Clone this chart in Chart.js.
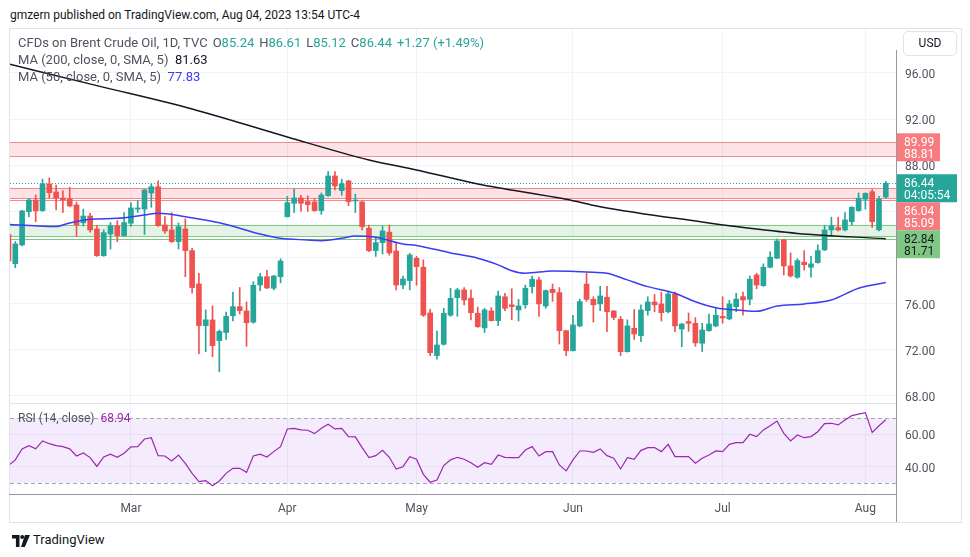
<!DOCTYPE html>
<html>
<head>
<meta charset="utf-8">
<script src="https://cdn.jsdelivr.net/npm/chart.js@4.4.0/dist/chart.umd.min.js"></script>
<style>
  body{margin:0;background:#fff;width:970px;height:557px;position:relative;overflow:hidden;font-family:Roboto,'Noto Sans',sans-serif;color:#131722}
  .abs{position:absolute}
  #frame{left:9px;top:28px;width:953px;height:495px;border:1px solid #e0e3eb;box-sizing:border-box}
  #head{left:10px;top:6px;font-size:12px;line-height:18px;color:#131722}
  #legend{left:18px;top:34px;font-size:13px;line-height:17px;color:#50535e;white-space:nowrap}
  #legend .t{color:#26a69a}
  #legend .m{margin-left:5px}
  #rsiLabel{left:18px;top:410px;font-size:12px;line-height:17px;color:#50535e}
  #usd{left:903px;top:31px;width:54px;height:25px;border:1px solid #e0e3eb;border-radius:5px;box-sizing:border-box;font-size:12px;line-height:23px;text-align:center;color:#131722}
  #mainBox{left:9px;top:28px;width:953px;height:375px}
  #rsiBox{left:9px;top:404px;width:953px;height:118px}
  #foot{left:33px;top:531px;font-size:13px;line-height:18px;color:#131722}
</style>
</head>
<body>
<div id="frame" class="abs"></div>
<div id="head" class="abs">gmzern published on TradingView.com, Aug 04, 2023 13:54 UTC-4</div>
<div id="mainBox" class="abs"><canvas id="mainChart"></canvas></div>
<div id="rsiBox" class="abs"><canvas id="rsiChart"></canvas></div>
<div class="abs" style="left:10px;top:403px;width:886px;height:1px;background:#e0e3eb"></div>
<div class="abs" style="left:9px;top:494px;width:887px;height:1px;background:#9598a1"></div>
<div class="abs" style="left:896px;top:50px;width:1px;height:472px;background:#9598a1"></div>
<div id="legend" class="abs">
  <div>CFDs on Brent Crude Oil, 1D, TVC<span class="m">O</span><span class="t">85.24</span><span class="m">H</span><span class="t">86.61</span><span class="m">L</span><span class="t">85.12</span><span class="m">C</span><span class="t">86.44</span><span class="m t">+1.27 (+1.49%)</span></div>
  <div>MA (200, close, 0, SMA, 5)&nbsp; <span style="color:#131722">81.63</span></div>
  <div>MA (50, close, 0, SMA, 5)&nbsp; <span style="color:#3c3cf5">77.83</span></div>
</div>
<div id="rsiLabel" class="abs">RSI (14, close)&nbsp; <span style="color:#9c27b0">68.94</span></div>
<div id="usd" class="abs">USD</div>
<svg class="abs" style="left:12px;top:535px" width="18" height="12" viewBox="0 0 18 12">
  <path d="M0 0h7.5v12h-3.6v-8.4h-3.9z" fill="#131722"/><circle cx="10.2" cy="2" r="2" fill="#131722"/><path d="M13 0h5l-5.2 12h-3.8z" fill="#131722"/>
</svg>
<div id="foot" class="abs">TradingView</div>

<script>
'use strict';

// trading days shown on the chart (Brent CFD, daily)
const dates = [
  'Feb 03','Feb 06','Feb 07','Feb 08','Feb 09','Feb 10','Feb 13','Feb 14','Feb 15','Feb 16','Feb 17','Feb 20','Feb 21','Feb 22','Feb 23','Feb 24','Feb 27','Feb 28',
  'Mar 01','Mar 02','Mar 03','Mar 06','Mar 07','Mar 08','Mar 09','Mar 10','Mar 13','Mar 14','Mar 15','Mar 16','Mar 17','Mar 20','Mar 21','Mar 22','Mar 23','Mar 24','Mar 27','Mar 28','Mar 29','Mar 30','Mar 31',
  'Apr 03','Apr 04','Apr 05','Apr 06','Apr 10','Apr 11','Apr 12','Apr 13','Apr 14','Apr 17','Apr 18','Apr 19','Apr 20','Apr 21','Apr 24','Apr 25','Apr 26','Apr 27','Apr 28',
  'May 01','May 02','May 03','May 04','May 05','May 08','May 09','May 10','May 11','May 12','May 15','May 16','May 17','May 18','May 19','May 22','May 23','May 24','May 25','May 26','May 29','May 30','May 31',
  'Jun 01','Jun 02','Jun 05','Jun 06','Jun 07','Jun 08','Jun 09','Jun 12','Jun 13','Jun 14','Jun 15','Jun 16','Jun 19','Jun 20','Jun 21','Jun 22','Jun 23','Jun 26','Jun 27','Jun 28','Jun 29','Jun 30',
  'Jul 03','Jul 04','Jul 05','Jul 06','Jul 07','Jul 10','Jul 11','Jul 12','Jul 13','Jul 14','Jul 17','Jul 18','Jul 19','Jul 20','Jul 21','Jul 24','Jul 25','Jul 26','Jul 27','Jul 28','Jul 31',
  'Aug 01','Aug 02','Aug 03','Aug 04'
];

const open = [
  82.00,79.47,81.09,83.98,84.99,84.07,86.38,85.68,85.16,85.10,84.56,83.00,83.60,82.48,80.16,82.04,82.76,81.90,
  82.97,84.20,84.20,85.60,86.14,82.82,82.39,81.38,82.48,80.60,77.71,74.10,74.59,72.80,73.50,74.96,75.74,75.37,74.40,77.62,78.34,77.34,78.34,
  83.54,84.70,85.16,84.85,84.82,84.07,85.37,87.07,85.80,86.64,84.90,84.82,82.54,80.60,81.29,82.20,80.57,77.62,78.00,
  79.94,79.16,75.20,71.50,72.48,75.00,76.52,77.19,76.47,75.17,73.90,75.37,74.53,76.60,75.90,75.46,75.90,77.48,78.06,75.80,77.25,76.96,73.66,
  71.92,74.07,77.70,76.38,75.98,76.56,75.37,74.65,71.84,73.87,73.23,75.40,76.15,75.98,75.30,76.84,73.80,74.45,74.30,72.57,73.66,74.07,
  74.90,74.68,75.74,76.61,76.38,78.49,77.56,79.16,79.94,81.52,79.27,78.29,79.60,79.16,79.56,80.66,82.39,82.60,82.39,83.10,84.07,
  85.05,85.71,82.40,85.24
];
const high = [
  82.30,81.38,84.10,85.14,85.42,86.80,86.90,86.29,85.80,86.10,84.80,84.20,83.84,82.80,82.40,83.03,83.20,83.90,
  84.76,84.93,85.90,86.38,86.64,83.54,83.89,83.00,83.35,80.80,78.64,75.46,75.80,73.72,75.28,77.00,77.40,76.15,77.90,78.64,78.90,78.45,79.90,
  85.30,85.94,85.40,85.35,85.14,85.60,87.45,87.45,86.80,86.70,85.50,84.90,82.82,81.70,82.70,82.82,81.30,78.40,80.37,
  80.10,79.80,75.50,73.63,75.60,77.34,77.34,77.40,77.20,75.70,75.60,75.66,77.10,76.90,77.30,76.37,77.60,78.40,78.30,77.20,77.70,77.40,73.70,
  75.00,76.40,78.64,76.60,77.50,77.50,75.40,74.90,74.60,75.50,75.90,76.60,76.80,77.00,77.00,77.00,74.30,75.20,74.80,74.30,75.10,75.70,
  76.60,76.30,76.90,77.00,78.40,78.64,79.45,80.50,81.60,81.60,80.40,79.90,80.60,80.10,81.10,82.80,83.50,83.50,83.90,84.40,85.60,
  85.60,85.90,85.30,86.61
];
const low = [
  79.50,79.12,81.00,83.54,83.11,84.00,85.14,84.12,83.90,84.40,81.80,82.74,82.20,80.10,80.10,80.74,81.38,81.85,
  82.70,83.90,82.00,84.36,82.70,82.10,81.30,80.74,78.34,76.90,71.67,71.84,71.40,70.10,72.90,74.50,75.10,72.30,74.30,77.13,77.30,77.20,77.80,
  83.50,83.92,84.00,84.00,84.00,83.75,85.30,85.86,85.40,84.50,83.90,82.40,80.50,80.10,80.30,80.20,77.20,77.30,77.20,
  77.60,74.90,71.50,71.20,72.40,74.90,74.90,75.90,74.60,73.95,73.50,74.50,74.10,75.40,74.60,74.50,75.60,76.90,74.90,75.60,76.20,72.50,71.50,
  71.90,74.00,76.20,74.40,75.40,73.58,74.60,71.50,71.80,72.90,72.70,75.00,75.30,74.50,75.20,73.58,72.27,73.60,72.30,71.85,73.60,74.00,
  74.30,74.60,75.30,75.00,75.90,77.30,77.50,79.10,79.90,78.49,78.30,78.20,78.90,78.30,79.50,80.60,81.90,82.30,82.30,82.80,84.00,
  84.20,82.60,82.30,85.12
];
const close = [
  79.70,81.18,84.04,84.99,84.04,86.38,85.62,85.14,84.99,84.47,82.82,83.60,82.39,80.16,82.16,82.76,81.90,83.03,
  84.30,84.30,85.86,86.14,82.76,82.30,81.38,82.68,80.60,77.40,74.10,74.60,72.36,73.60,74.90,75.74,75.40,74.35,77.60,78.34,77.36,78.40,79.70,
  84.76,85.16,84.70,84.59,84.07,85.42,87.07,86.20,86.38,84.85,84.93,82.68,80.60,81.29,82.30,80.40,77.62,78.14,80.22,
  79.21,75.00,71.75,72.42,75.17,76.47,77.19,76.32,75.22,74.00,75.46,74.53,76.67,75.60,75.75,75.80,77.34,78.12,75.98,77.13,76.96,73.66,71.92,
  74.16,76.18,76.38,75.90,76.67,75.30,74.80,71.84,74.07,73.37,75.46,76.15,75.90,75.22,76.84,74.07,74.24,74.30,72.60,73.72,74.24,75.00,
  74.76,75.98,76.40,76.32,78.12,77.62,79.16,80.03,81.44,79.27,78.40,79.73,79.38,79.45,80.60,82.39,82.76,82.39,83.26,84.36,85.14,
  85.57,83.10,85.05,86.44
];

// moving averages (day, value)
const ma200Days = ['Feb 03','Feb 22','Mar 14','Apr 03','Apr 20','May 01','May 12','May 31','Jun 07','Jun 28','Jul 05','Jul 18','Aug 04'];
const ma200 =     [96.78, 94.90, 92.88, 90.45, 88.46, 87.59, 86.38, 85.05, 84.41, 83.08, 82.68, 82.09, 81.63];
const ma50Days = ['Feb 03','Feb 14','Feb 16','Feb 21','Feb 27','Mar 03','Mar 07','Mar 13','Mar 20','Mar 23','Mar 28','Mar 31','Apr 06','Apr 11','Apr 14','Apr 18','Apr 21','Apr 27','May 01',
                  'May 08','May 12','May 17','May 19','May 23','May 29','Jun 06','Jun 08','Jun 13','Jun 16','Jun 22','Jun 27','Jun 30','Jul 06','Jul 10','Jul 13','Jul 19','Jul 25','Jul 31','Aug 04'];
const ma50 =     [82.88, 82.68, 83.00, 83.32, 83.40, 83.69, 83.84, 83.54, 83.02, 82.54, 82.04, 81.67, 81.52, 81.46, 81.67, 81.87, 81.76, 81.18, 81.05,
                  80.40, 79.94, 79.36, 78.86, 78.64, 78.84, 78.72, 78.64, 78.06, 77.48, 76.90, 76.17, 75.65, 75.41, 75.34, 75.80, 75.98, 76.32, 77.34, 77.83];

const rsi = [
  40.7,44.2,51.0,53.0,51.0,55.9,54.2,53.0,52.4,51.0,46.6,48.5,45.6,40.2,46.0,47.7,45.8,48.3,
  52.2,52.4,57.1,57.9,46.8,46.6,43.5,47.2,42.1,35.9,30.8,31.4,28.3,31.2,35.9,39.0,39.0,36.5,46.6,47.7,46.0,49.3,52.4,
  63.3,63.7,62.7,62.5,60.4,63.7,66.2,63.3,63.7,58.6,58.4,51.8,45.6,46.8,50.1,45.8,38.6,40.0,46.2,
  44.6,35.3,30.4,31.8,40.7,44.2,45.8,44.6,42.5,39.6,42.5,41.5,47.2,45.8,45.6,45.6,50.3,52.4,46.6,49.3,49.3,41.1,37.4,
  44.2,49.7,49.7,48.9,51.0,46.8,45.2,38.6,45.6,44.6,50.1,51.8,51.8,49.3,53.8,46.2,46.2,46.2,42.1,45.2,47.2,49.7,
  49.3,53.8,54.9,54.9,60.0,58.6,62.7,65.3,68.2,60.6,55.9,59.6,57.9,58.6,61.6,66.6,66.8,65.8,68.8,71.5,72.5,
  73.4,61.2,65.3,68.94
];

// horizontal zones drawn on the chart: [top, bottom, extra line]
const zoneEdges = [[89.99, 88.81], [86.04, 85.12, 84.95], [82.84, 81.84, 81.58]];
const zoneKind = ['sell', 'sell', 'buy'];
const lastPrice = 86.44;
const countdown = '04:05:54';
const priceLabels = [
  { vals: [89.99, 88.81], kind: 'sell' },
  { vals: [86.44], extra: countdown, kind: 'last' },
  { vals: [86.04, 85.09], kind: 'sell' },
  { vals: [82.84, 81.71], kind: 'buy' }
];
const priceTicks = [68, 72, 76, 80, 84, 88, 92, 96];
const rsiTicks = [40, 60];
const rsiBands = [70, 30];

const UP = '#26a69a', DOWN = '#ef5350';
const FONT = { family: 'Roboto', size: 12 };
const GRID = '#f0f3fa';
const TXT = '#50535e';
const X_MIN = 0.22, X_MAX = 130.5;

const monthStarts = dates.map((d, i) => i).filter(i => i > 0 && dates[i].slice(0, 3) !== dates[i - 1].slice(0, 3));
const colors = close.map((c, i) => c >= open[i] ? UP : DOWN);
const idx = d => dates.indexOf(d);

const LABEL_STYLE = {
  sell: { bg: '#f77c80', fg: '#ffffff', w: 43 },
  last: { bg: '#26a69a', fg: '#ffffff', w: 60 },
  buy:  { bg: '#81c784', fg: '#131722', w: 43 }
};
const ZONE_STYLE = {
  sell: { fill: 'rgba(242,54,69,0.14)', line: '#f7868f' },
  buy:  { fill: 'rgba(76,175,80,0.15)', line: '#81c784' }
};

function layoutLabels(y) {
  let prev = -Infinity;
  return priceLabels.map(g => {
    const lines = g.vals.map(v => v.toFixed(2));
    if (g.extra) lines.push(g.extra);
    const h = lines.length * 12 + 4;
    const top = Math.max(prev, y.getPixelForValue(g.vals[0]) - 9);
    prev = top + h;
    return { top, h, lines, st: LABEL_STYLE[g.kind] };
  });
}

const mainPlugin = {
  id: 'mainDeco',
  beforeDatasetsDraw(chart) {
    const { ctx, chartArea: a, scales: { y } } = chart;
    ctx.save();
    zoneEdges.forEach((edges, k) => {
      const st = ZONE_STYLE[zoneKind[k]];
      const y1 = y.getPixelForValue(edges[0]), y2 = y.getPixelForValue(edges[1]);
      ctx.fillStyle = st.fill;
      ctx.fillRect(a.left, y1, a.right - a.left, y2 - y1);
      ctx.strokeStyle = st.line; ctx.lineWidth = 1;
      edges.forEach(v => {
        const p = Math.round(y.getPixelForValue(v)) + 0.5;
        ctx.beginPath(); ctx.moveTo(a.left, p); ctx.lineTo(a.right, p); ctx.stroke();
      });
    });
    const p = Math.round(y.getPixelForValue(lastPrice)) + 0.5;
    ctx.strokeStyle = UP; ctx.setLineDash([1, 2]);
    ctx.beginPath(); ctx.moveTo(a.left, p); ctx.lineTo(a.right, p); ctx.stroke();
    ctx.restore();
  },
  afterDraw(chart) {
    const { ctx, chartArea: a, scales: { y } } = chart;
    ctx.save();
    ctx.font = '12px Roboto';
    ctx.textBaseline = 'middle';
    layoutLabels(y).forEach(b => {
      ctx.fillStyle = b.st.bg;
      ctx.fillRect(a.right + 1, b.top, b.st.w, b.h);
      ctx.fillStyle = b.st.fg;
      b.lines.forEach((t, k) => ctx.fillText(t, a.right + 8, b.top + 9.5 + k * 12));
    });
    ctx.restore();
  }
};

const rsiPlugin = {
  id: 'rsiDeco',
  beforeDatasetsDraw(chart) {
    const { ctx, chartArea: a, scales: { y } } = chart;
    const y1 = y.getPixelForValue(rsiBands[0]), y2 = y.getPixelForValue(rsiBands[1]);
    ctx.save();
    ctx.fillStyle = 'rgba(149,60,230,0.1)';
    ctx.fillRect(a.left, y1, a.right - a.left, y2 - y1);
    ctx.strokeStyle = '#a3a6af'; ctx.lineWidth = 1; ctx.setLineDash([4, 3]);
    [y1, y2].forEach(p => {
      const q = Math.round(p) + 0.5;
      ctx.beginPath(); ctx.moveTo(a.left, q); ctx.lineTo(a.right, q); ctx.stroke();
    });
    ctx.restore();
  }
};

// keep scales from reserving extra room for their edge labels
const noPad = s => { s.paddingTop = 0; s.paddingBottom = 0; s.paddingLeft = 0; s.paddingRight = 0; };

const xCommon = {
  type: 'linear', min: X_MIN, max: X_MAX, offset: false,
  afterBuildTicks: s => { s.ticks = monthStarts.map(v => ({ value: v })); },
  grid: { color: GRID, drawTicks: false, offset: false },
  border: { display: false }
};

const mainChart = new Chart(document.getElementById('mainChart'), {
  type: 'bar',
  data: {
    datasets: [
      { type: 'line', label: 'MA200', data: ma200Days.map((d, i) => ({ x: idx(d), y: ma200[i] })), borderColor: '#131722', borderWidth: 1.5, pointRadius: 0, cubicInterpolationMode: 'monotone', order: 0 },
      { type: 'line', label: 'MA50', data: ma50Days.map((d, i) => ({ x: idx(d), y: ma50[i] })), borderColor: '#3c3cf5', borderWidth: 1.5, pointRadius: 0, cubicInterpolationMode: 'monotone', order: 0 },
      { label: 'wick', data: dates.map((d, i) => ({ x: i, y: [low[i], high[i]] })), backgroundColor: colors, barThickness: 1, grouped: false, order: 2 },
      { label: 'body', data: dates.map((d, i) => ({ x: i, y: [open[i], close[i]] })), backgroundColor: colors, barThickness: 5, grouped: false, minBarLength: 1, order: 1 }
    ]
  },
  options: {
    responsive: true, maintainAspectRatio: false, animation: false,
    layout: { padding: { left: 1, top: 1, right: 0, bottom: 0 } },
    plugins: { legend: { display: false }, tooltip: { enabled: false } },
    scales: {
      x: { ...xCommon, ticks: { display: false }, afterFit: s => { noPad(s); s.height = 0; } },
      y: {
        type: 'linear', position: 'right', min: 67.39, max: 99.81, beginAtZero: false,
        afterBuildTicks: s => { s.ticks = priceTicks.map(v => ({ value: v })); },
        afterFit: s => { noPad(s); s.width = 66; },
        grid: { color: GRID, drawTicks: false },
        border: { display: false },
        ticks: {
          padding: 9, font: FONT, labelOffset: 2,
          callback: v => v.toFixed(2),
          color: c => {
            const y = c.chart.scales.y;
            const p = y.getPixelForValue(c.tick.value);
            return layoutLabels(y).some(b => p >= b.top && p <= b.top + b.h) ? 'rgba(0,0,0,0)' : TXT;
          }
        }
      }
    }
  },
  plugins: [mainPlugin]
});

const rsiChart = new Chart(document.getElementById('rsiChart'), {
  type: 'line',
  data: {
    datasets: [{ label: 'RSI', data: rsi.map((v, i) => ({ x: i, y: v })), borderColor: '#9c27b0', borderWidth: 1.2, pointRadius: 0, tension: 0 }]
  },
  options: {
    responsive: true, maintainAspectRatio: false, animation: false,
    layout: { padding: { left: 1, top: 0, right: 0, bottom: 0 } },
    plugins: { legend: { display: false }, tooltip: { enabled: false } },
    scales: {
      x: {
        ...xCommon,
        afterFit: s => { noPad(s); s.height = 28; },
        ticks: { padding: 8, font: FONT, color: TXT, maxRotation: 0, callback: v => dates[v].slice(0, 3) }
      },
      y: {
        type: 'linear', position: 'right', min: 23.15, max: 78.7,
        afterBuildTicks: s => { s.ticks = rsiTicks.map(v => ({ value: v })); },
        afterFit: s => { noPad(s); s.width = 66; },
        grid: { color: GRID, drawTicks: false },
        border: { display: false },
        ticks: { padding: 9, font: FONT, color: TXT, labelOffset: 2, callback: v => v.toFixed(2) }
      }
    }
  },
  plugins: [rsiPlugin]
});
</script>
</body>
</html>
